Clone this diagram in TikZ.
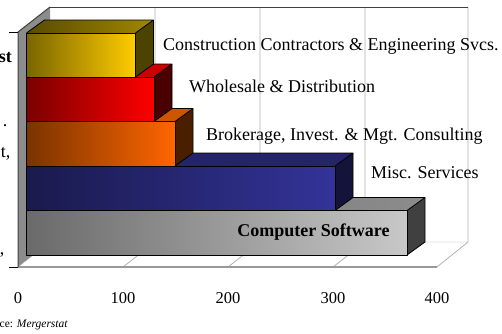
\documentclass[tikz,border=0pt]{standalone}
\usepackage{fontspec}
\usepackage{xcolor}
\usepackage{tikz}
\setmainfont{Liberation Serif}

\definecolor{ylwlo}{HTML}{7A6500}
\definecolor{ylwhi}{HTML}{FFCC00}
\definecolor{ylwtop}{HTML}{A08800}
\definecolor{ylwside}{HTML}{4D4300}
\definecolor{redlo}{HTML}{7A0000}
\definecolor{redhi}{HTML}{FF0000}
\definecolor{redtop}{HTML}{CC0000}
\definecolor{redside}{HTML}{4A0000}
\definecolor{orglo}{HTML}{7A3300}
\definecolor{orghi}{HTML}{FF6600}
\definecolor{orgtop}{HTML}{CC5500}
\definecolor{orgside}{HTML}{4A1F00}
\definecolor{navlo}{HTML}{1A1A4D}
\definecolor{navhi}{HTML}{333399}
\definecolor{navtop}{HTML}{24246A}
\definecolor{navside}{HTML}{14143A}
\definecolor{gralo}{HTML}{6A6A6A}
\definecolor{grahi}{HTML}{C8C8C8}
\definecolor{gratop}{HTML}{8C8C8C}
\definecolor{graside}{HTML}{404040}

\begin{document}
\begin{tikzpicture}[x=1pt,y=1pt,
	barline/.style={draw=black, line width=0.8pt, line join=round},
	gridline/.style={draw=black!30, line width=0.8pt},
	wallline/.style={draw=black!75, line width=1pt},
	datalabel/.style={font=\fontsize{18}{20}\selectfont, anchor=base west},
	ticklabel/.style={font=\fontsize{16.5}{18}\selectfont, anchor=base},
	catlabel/.style={font=\fontsize{18}{20}\selectfont, anchor=base east}]
	\tikzstyle{every node}+=[inner sep=0pt]
	\useasboundingbox (0,0) rectangle (502,-333);
	% walls and floor
	\fill [white] (50,-7) rectangle (468,-242);
	\fill [black!45] (18,-32) -- (50,-7) -- (50,-242) -- (18,-267) -- cycle;
	\fill [white] (18,-267) -- (437,-267) -- (468,-242) -- (50,-242) -- cycle;
	\draw [gridline] (155,-7) -- (155,-242) -- (123,-267);
	\draw [gridline] (260,-7) -- (260,-242) -- (228,-267);
	\draw [gridline] (365,-7) -- (365,-242) -- (333,-267);
	\draw [gridline] (468,-7) -- (468,-242) -- (437,-267);
	\draw [black!40, line width=1.6pt] (18,-267) -- (437,-267);
	\draw [black!35] (18,-267) -- (50,-242) -- (468,-242);
	\draw [wallline] (50,-7) -- (468,-7);
	\draw [wallline] (18,-267) -- (18,-32) -- (50,-7);
	\draw [black, line width=0.8pt] (9,-32) -- (18,-32);
	\draw [black, line width=0.8pt] (9,-267) -- (18,-267);
	% bars, bottom row first
	\shade [left color=gralo, right color=grahi] (26.5,-210.5) rectangle (407,-255);
	\shade [left color=gratop!80!black, right color=gratop] (26.5,-210.5) -- (407,-210.5) -- (425,-197.5) -- (44.5,-197.5) -- cycle;
	\fill [graside] (407,-210.5) -- (425,-197.5) -- (425,-242) -- (407,-255) -- cycle;
	\draw [barline] (26.5,-210.5) rectangle (407,-255);
	\draw [barline] (26.5,-210.5) -- (44.5,-197.5) -- (425,-197.5) -- (407,-210.5);
	\draw [barline] (425,-197.5) -- (425,-242) -- (407,-255);
	\shade [left color=navlo, right color=navhi] (26.5,-166) rectangle (335,-210.5);
	\fill [navtop] (26.5,-166) -- (335,-166) -- (353,-153) -- (44.5,-153) -- cycle;
	\fill [navside] (335,-166) -- (353,-153) -- (353,-197.5) -- (335,-210.5) -- cycle;
	\draw [barline] (26.5,-166) rectangle (335,-210.5);
	\draw [barline] (26.5,-166) -- (44.5,-153) -- (353,-153) -- (335,-166);
	\draw [barline] (353,-153) -- (353,-197.5) -- (335,-210.5);
	\shade [left color=orglo, right color=orghi] (26.5,-121.5) rectangle (175,-166);
	\fill [orgtop] (26.5,-121.5) -- (175,-121.5) -- (193,-108.5) -- (44.5,-108.5) -- cycle;
	\fill [orgside] (175,-121.5) -- (193,-108.5) -- (193,-153) -- (175,-166) -- cycle;
	\draw [barline] (26.5,-121.5) rectangle (175,-166);
	\draw [barline] (26.5,-121.5) -- (44.5,-108.5) -- (193,-108.5) -- (175,-121.5);
	\draw [barline] (193,-108.5) -- (193,-153) -- (175,-166);
	\shade [left color=redlo, right color=redhi] (26.5,-77) rectangle (154,-121.5);
	\fill [redtop] (26.5,-77) -- (154,-77) -- (172,-64) -- (44.5,-64) -- cycle;
	\fill [redside] (154,-77) -- (172,-64) -- (172,-108.5) -- (154,-121.5) -- cycle;
	\draw [barline] (26.5,-77) rectangle (154,-121.5);
	\draw [barline] (26.5,-77) -- (44.5,-64) -- (172,-64) -- (154,-77);
	\draw [barline] (172,-64) -- (172,-108.5) -- (154,-121.5);
	\shade [left color=ylwlo, right color=ylwhi] (26.5,-33) rectangle (135.5,-77);
	\shade [left color=ylwtop!55!black, right color=ylwtop] (26.5,-33) -- (135.5,-33) -- (153.5,-20) -- (44.5,-20) -- cycle;
	\fill [ylwside] (135.5,-33) -- (153.5,-20) -- (153.5,-64) -- (135.5,-77) -- cycle;
	\draw [barline] (26.5,-33) rectangle (135.5,-77);
	\draw [barline] (26.5,-33) -- (44.5,-20) -- (153.5,-20) -- (135.5,-33);
	\draw [barline] (153.5,-20) -- (153.5,-64) -- (135.5,-77);
	% data labels
	\node [datalabel] (lblcons) at (163,-50.5) {Construction Contractors \& Engineering Svcs.};
	\node [datalabel] (lblwhol) at (189,-92) {Wholesale \& Distribution};
	\node [datalabel] (lblbrok) at (206,-140) {Brokerage, Invest. \& Mgt. Consulting};
	\node [datalabel] (lblmisc) at (371,-178.5) {Misc. Services};
	\node [datalabel, anchor=base] (lblsoft) at (313.5,-236.5) {\textbf{Computer Software}};
	% category labels, cut at the left edge
	\node [catlabel] (catone) at (12,-62) {\textbf{st}};
	\node [catlabel] (cattwo) at (7.5,-126) {.};
	\node [catlabel] (catthree) at (10.5,-157) {t,};
	\node [catlabel] (catfour) at (4.5,-254) {,};
	% value axis
	\node [ticklabel] (tick0) at (18,-303.5) {0};
	\node [ticklabel] (tick1) at (123,-303.5) {100};
	\node [ticklabel] (tick2) at (228,-303.5) {200};
	\node [ticklabel] (tick3) at (333,-303.5) {300};
	\node [ticklabel] (tick4) at (437,-303.5) {400};
	\node [font=\fontsize{11.5}{13}\selectfont, anchor=base west] (src) at (-0.5,-327) {ce: \textit{Mergerstat}};
\end{tikzpicture}
\end{document}
